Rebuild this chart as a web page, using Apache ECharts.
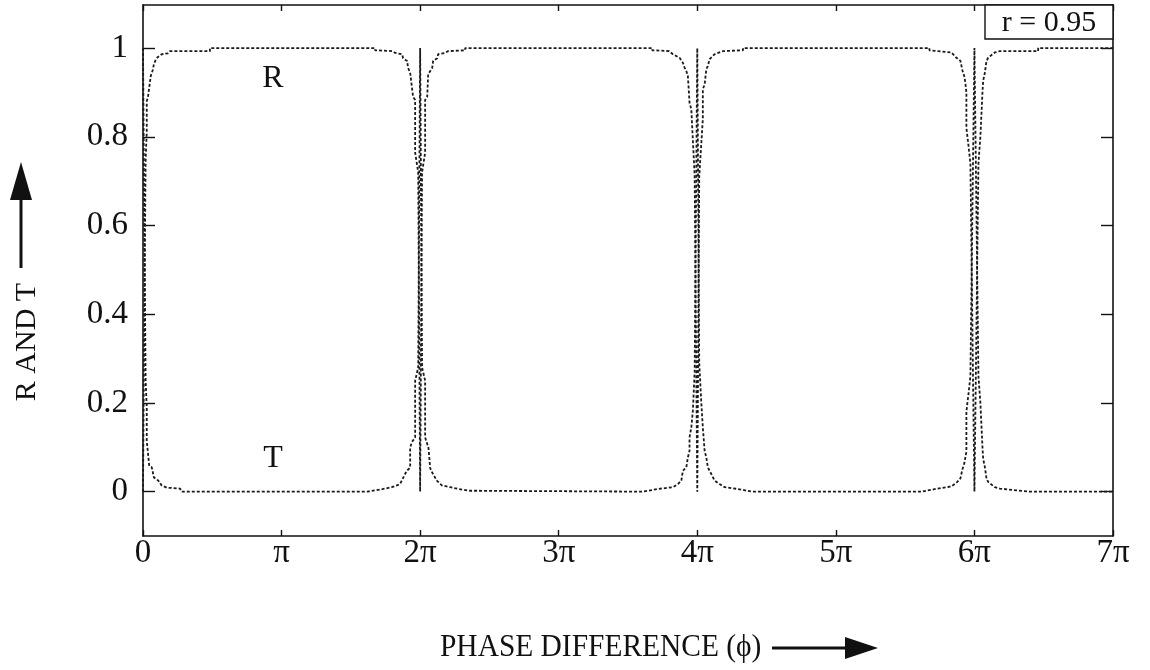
<!DOCTYPE html>
<html>
<head>
<meta charset="utf-8">
<title>R and T versus phase difference</title>
<script src="https://cdn.jsdelivr.net/npm/echarts@6/dist/echarts.min.js"></script>
<style>
  html, body { margin: 0; padding: 0; background: #ffffff; }
  #chart { width: 1150px; height: 670px; }
</style>
</head>
<body>
<div id="chart"></div>
<script>
// Phase difference is given in units of pi; values are fractions of incident intensity.
const phaseTickLabels = ['0', 'π', '2π', '3π', '4π', '5π', '6π', '7π'];
const intensityTicks = [0, 0.2, 0.4, 0.6, 0.8, 1];

// Reflected intensity R  [phase / pi, R]
const reflectance = [
  [0, 0], [0.007, 0.30], [0.019, 0.75], [0.027, 0.81], [0.027, 0.88], [0.036, 0.89],
  [0.056, 0.937], [0.07, 0.95], [0.079, 0.964], [0.094, 0.975], [0.108, 0.98],
  [0.135, 0.986], [0.18, 0.988], [0.195, 0.993], [0.483, 0.993], [0.483, 1],
  [1.675, 1], [1.675, 0.995], [1.798, 0.993], [1.820, 0.989], [1.870, 0.986],
  [1.877, 0.977], [1.906, 0.971], [1.913, 0.955], [1.928, 0.944], [1.942, 0.941],
  [1.949, 0.89], [1.964, 0.883], [1.964, 0.764], [1.986, 0.72], [2.0, 0],
  [2.014, 0.72], [2.036, 0.764], [2.036, 0.883], [2.051, 0.89], [2.058, 0.941],
  [2.072, 0.944], [2.087, 0.955], [2.094, 0.971], [2.123, 0.977], [2.130, 0.986],
  [2.180, 0.989], [2.202, 0.993], [2.325, 0.995], [2.325, 1],
  [3.675, 1], [3.675, 0.995], [3.798, 0.993], [3.824, 0.986], [3.872, 0.978],
  [3.896, 0.967], [3.908, 0.956], [3.921, 0.948], [3.932, 0.937], [3.944, 0.933],
  [3.944, 0.877], [3.957, 0.862], [3.981, 0.712], [4.0, 0], [4.014, 0.71],
  [4.040, 0.84], [4.040, 0.907], [4.053, 0.918], [4.065, 0.952], [4.076, 0.959],
  [4.089, 0.975], [4.125, 0.986], [4.185, 0.993], [4.33, 0.995], [4.33, 1],
  [5.675, 1], [5.675, 0.995], [5.834, 0.99], [5.870, 0.978], [5.899, 0.971],
  [5.913, 0.95], [5.928, 0.935], [5.935, 0.92], [5.942, 0.90], [5.942, 0.82],
  [5.957, 0.78], [5.971, 0.74], [6.0, 0], [6.029, 0.74], [6.043, 0.80],
  [6.058, 0.90], [6.063, 0.926], [6.075, 0.944], [6.087, 0.971], [6.099, 0.978],
  [6.147, 0.99], [6.183, 0.993], [6.460, 0.993], [6.460, 1], [7, 1]
];

// Transmitted intensity T  [phase / pi, T]
const transmittance = [
  [0, 1], [0.007, 0.70], [0.019, 0.25], [0.027, 0.19], [0.027, 0.115], [0.045, 0.058],
  [0.063, 0.055], [0.079, 0.032], [0.110, 0.025], [0.135, 0.014], [0.171, 0.009],
  [0.267, 0.007], [0.279, 0],
  [1.62, 0], [1.62, 0.002], [1.734, 0.006], [1.795, 0.01], [1.831, 0.014],
  [1.855, 0.017], [1.879, 0.032], [1.903, 0.047], [1.928, 0.054], [1.928, 0.099],
  [1.939, 0.111], [1.964, 0.122], [1.964, 0.25], [1.986, 0.28], [2.0, 1],
  [2.014, 0.28], [2.036, 0.25], [2.036, 0.122], [2.060, 0.099], [2.072, 0.054],
  [2.080, 0.047], [2.120, 0.025], [2.157, 0.014], [2.217, 0.01], [2.277, 0.006],
  [2.361, 0.002], [2.40, 0.002], [2.40, 0],
  [3.60, 0], [3.643, 0.002], [3.716, 0.006], [3.824, 0.01], [3.860, 0.017],
  [3.885, 0.025], [3.896, 0.047], [3.921, 0.055], [3.932, 0.077], [3.944, 0.092],
  [3.944, 0.122], [3.957, 0.145], [3.968, 0.182], [3.981, 0.27], [4.0, 1],
  [4.014, 0.29], [4.029, 0.2], [4.040, 0.145], [4.053, 0.092], [4.065, 0.077],
  [4.076, 0.055], [4.089, 0.047], [4.125, 0.025], [4.161, 0.017], [4.197, 0.01],
  [4.293, 0.006], [4.361, 0.002], [4.40, 0],
  [5.62, 0], [5.62, 0.002], [5.72, 0.006], [5.80, 0.01], [5.834, 0.012],
  [5.870, 0.02], [5.899, 0.03], [5.913, 0.05], [5.928, 0.065], [5.942, 0.09],
  [5.942, 0.18], [5.957, 0.22], [5.971, 0.26], [6.0, 1], [6.029, 0.26],
  [6.043, 0.2], [6.058, 0.1], [6.063, 0.074], [6.075, 0.056], [6.087, 0.03],
  [6.099, 0.022], [6.147, 0.01], [6.183, 0.007], [6.30, 0.003], [6.40, 0], [7, 0]
];

const FONT = "'Liberation Serif', 'Times New Roman', serif";
const INK = '#111111';

const frameLine = { show: true, onZero: false, lineStyle: { color: INK, width: 1.6 } };

function xAxisDef(position, showLabels) {
  return {
    type: 'value',
    position: position,
    min: 0,
    max: 7,
    interval: 1,
    axisLine: frameLine,
    axisTick: { show: true, inside: true, length: 6, lineStyle: { color: INK, width: 1.4 } },
    axisLabel: {
      show: showLabels,
      margin: 1,
      color: INK,
      fontFamily: FONT,
      fontSize: 33,
      formatter: v => phaseTickLabels[Math.round(v)]
    },
    splitLine: { show: false }
  };
}

function yAxisDef(position, showLabels) {
  return {
    type: 'value',
    position: position,
    min: -0.1,
    max: 1.097,
    axisLine: frameLine,
    axisTick: {
      show: true, inside: true, length: 12, customValues: intensityTicks,
      lineStyle: { color: INK, width: 1.4 }
    },
    axisLabel: {
      show: showLabels,
      customValues: intensityTicks,
      margin: 15,
      color: INK,
      fontFamily: FONT,
      fontSize: 33,
      formatter: v => String(Math.round(v * 10) / 10)
    },
    splitLine: { show: false }
  };
}

const curveStyle = { color: '#1a1a1a', width: 1.8, type: [3, 2] };

const chart = echarts.init(document.getElementById('chart'), null, { renderer: 'canvas' });

chart.setOption({
  animation: false,
  backgroundColor: '#ffffff',
  grid: { left: 143, right: 37, top: 5, bottom: 134, containLabel: false },
  xAxis: [xAxisDef('bottom', true), xAxisDef('top', false)],
  yAxis: [yAxisDef('left', true), yAxisDef('right', false)],
  series: [
    {
      name: 'R',
      type: 'line',
      xAxisIndex: 0,
      yAxisIndex: 0,
      data: reflectance,
      showSymbol: false,
      lineStyle: curveStyle,
      z: 2
    },
    {
      name: 'T',
      type: 'line',
      xAxisIndex: 0,
      yAxisIndex: 0,
      data: transmittance,
      showSymbol: false,
      lineStyle: curveStyle,
      z: 2
    }
  ],
  graphic: [
    // curve labels
    { type: 'text', x: 273, y: 79, style: { text: 'R', font: '32px ' + FONT, fill: INK, align: 'center', verticalAlign: 'middle' } },
    { type: 'text', x: 273, y: 459, style: { text: 'T', font: '32px ' + FONT, fill: INK, align: 'center', verticalAlign: 'middle' } },
    // mirror reflectivity box
    { type: 'rect', shape: { x: 985, y: 5, width: 128, height: 34 }, style: { fill: '#ffffff', stroke: INK, lineWidth: 1.4 }, z: 10 },
    { type: 'text', x: 1049, y: 23, z: 11, style: { text: 'r = 0.95', font: '30px ' + FONT, fill: INK, align: 'center', verticalAlign: 'middle' } },
    // horizontal axis title with arrow
    { type: 'text', x: 440, y: 648, scaleX: 0.92, style: { text: 'PHASE DIFFERENCE (ϕ)', font: '32px ' + FONT, fill: INK, align: 'left', verticalAlign: 'middle' } },
    { type: 'line', shape: { x1: 772, y1: 648, x2: 850, y2: 648 }, style: { stroke: INK, lineWidth: 3 } },
    { type: 'polygon', shape: { points: [[845, 637], [878, 648], [845, 659]] }, style: { fill: INK } },
    // vertical axis title with arrow
    { type: 'text', x: 27, y: 342, rotation: Math.PI / 2, style: { text: 'R AND T', font: '30px ' + FONT, fill: INK, align: 'center', verticalAlign: 'middle' } },
    { type: 'line', shape: { x1: 21, y1: 268, x2: 21, y2: 195 }, style: { stroke: INK, lineWidth: 3 } },
    { type: 'polygon', shape: { points: [[10, 200], [21, 162], [32, 200]] }, style: { fill: INK } }
  ]
});
</script>
</body>
</html>
